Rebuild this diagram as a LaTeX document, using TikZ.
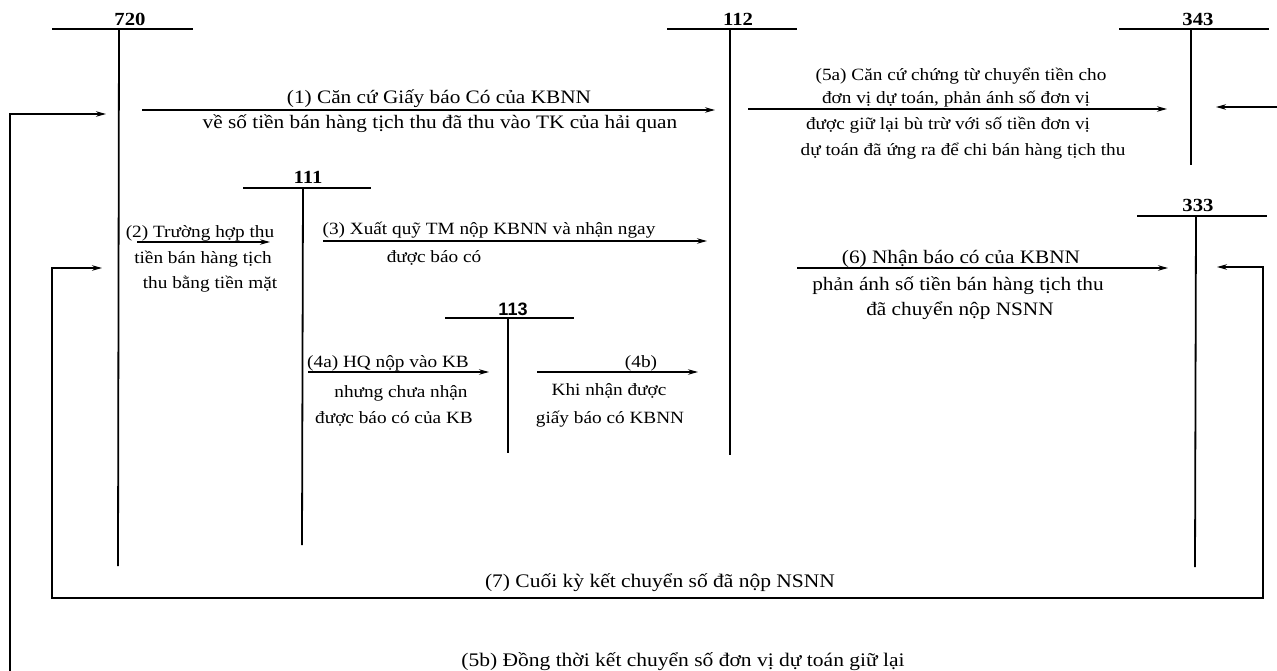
\documentclass[tikz,border=0pt]{standalone}
\usepackage{fontspec}
\setmainfont{Liberation Serif}[FakeStretch=1.12]
\newfontfamily\numsans{Liberation Sans}
\usetikzlibrary{arrows.meta}
\begin{document}
\begin{tikzpicture}[x=1pt,y=-1pt,
  tline/.style={line width=1.8pt},
  flow/.style={line width=1.3pt,-{Stealth[length=10pt,width=5.5pt]}},
  both/.style={line width=1.3pt,{Stealth[length=10pt,width=5.5pt]}-{Stealth[length=10pt,width=5.5pt]}},
  txt/.style={anchor=base,inner sep=0pt,font=\fontsize{19}{20}\selectfont},
  stxt/.style={anchor=base,inner sep=0pt,font=\fontsize{17.2}{20}\selectfont},
  btxt/.style={anchor=base,inner sep=0pt,font=\fontsize{19.2}{20}\selectfont},
  acc/.style={anchor=base,inner sep=0pt,font=\fontsize{18.5}{20}\selectfont\bfseries},
  accs/.style={anchor=base,inner sep=0pt,font=\numsans\fontsize{18}{20}\selectfont\bfseries}]
\useasboundingbox (0,0) rectangle (1277,671);

% ---------- T accounts ----------
\node[acc] (n720) at (130,26) {720};
\coordinate (a720l) at (52,29); \coordinate (a720r) at (193,29);
\coordinate (a720t) at (119,29); \coordinate (a720b) at (118,566);
\draw[tline] (a720l) -- (a720r); \draw[tline] (a720t) -- (a720b);

\node[acc] (n112) at (738,26) {112};
\coordinate (a112l) at (667,29); \coordinate (a112r) at (797,29);
\coordinate (a112t) at (730,29); \coordinate (a112b) at (730,455);
\draw[tline] (a112l) -- (a112r); \draw[tline] (a112t) -- (a112b);

\node[acc] (n343) at (1198,26) {343};
\coordinate (a343l) at (1119,29); \coordinate (a343r) at (1269,29);
\coordinate (a343t) at (1191,29); \coordinate (a343b) at (1191,165);
\draw[tline] (a343l) -- (a343r); \draw[tline] (a343t) -- (a343b);

\node[acc] (n111) at (308,184) {111};
\coordinate (a111l) at (243,188); \coordinate (a111r) at (371,188);
\coordinate (a111t) at (303,188); \coordinate (a111b) at (302,545);
\draw[tline] (a111l) -- (a111r); \draw[tline] (a111t) -- (a111b);

\node[acc] (n333) at (1198,212) {333};
\coordinate (a333l) at (1137,216); \coordinate (a333r) at (1267,216);
\coordinate (a333t) at (1196,216); \coordinate (a333b) at (1195,567);
\draw[tline] (a333l) -- (a333r); \draw[tline] (a333t) -- (a333b);

\node[accs] (n113) at (513,315) {113};
\coordinate (a113l) at (445,318); \coordinate (a113r) at (574,318);
\coordinate (a113t) at (508,318); \coordinate (a113b) at (508,453);
\draw[tline] (a113l) -- (a113r); \draw[tline] (a113t) -- (a113b);

% ---------- (1) ----------
\coordinate (f1s) at (142,110); \coordinate (f1e) at (715,110);
\draw[flow] (f1s) -- (f1e);
\node[txt] (t1a) at (439,104) {(1) Căn cứ Giấy báo Có của KBNN};
\node[txt] (t1b) at (440,129) {về số tiền bán hàng tịch thu đã thu vào TK của hải quan};

% ---------- (5a) ----------
\coordinate (f5s) at (748,109); \coordinate (f5e) at (1167,109);
\draw[flow] (f5s) -- (f5e);
\node[stxt] (t5a) at (961,81) {(5a) Căn cứ chứng từ chuyển tiền cho};
\node[stxt] (t5b) at (956,104) {đơn vị dự toán, phản ánh số đơn vị};
\node[stxt] (t5c) at (948,130) {được giữ lại bù trừ với số tiền đơn vị};
\node[stxt] (t5d) at (963,156) {dự toán đã ứng ra để chi bán hàng tịch thu};

% ---------- (5b) loop ----------
\coordinate (l5a) at (1216,107); \coordinate (l5b) at (1300,107);
\coordinate (l5c) at (1300,673); \coordinate (l5d) at (10,673);
\coordinate (l5e) at (10,114); \coordinate (l5f) at (106,114);
\draw[both] (l5a) -- (l5b) -- (l5c) -- (l5d) -- (l5e) -- (l5f);
\node[btxt] (t5bb) at (683,666) {(5b) Đồng thời kết chuyển số đơn vị dự toán giữ lại};

% ---------- (2) ----------
\coordinate (f2s) at (137,242); \coordinate (f2e) at (270,242);
\draw[flow] (f2s) -- (f2e);
\node[stxt] (t2a) at (200,237) {(2) Trường hợp thu};
\node[stxt] (t2b) at (203,263) {tiền bán hàng tịch};
\node[stxt] (t2c) at (210,288) {thu bằng tiền mặt};

% ---------- (3) ----------
\coordinate (f3s) at (323,241); \coordinate (f3e) at (707,241);
\draw[flow] (f3s) -- (f3e);
\node[stxt] (t3a) at (489,235) {(3) Xuất quỹ TM nộp KBNN và nhận ngay};
\node[stxt] (t3b) at (434,262) {được báo có};

% ---------- (6) ----------
\coordinate (f6s) at (797,268); \coordinate (f6e) at (1168,268);
\draw[flow] (f6s) -- (f6e);
\node[txt] (t6a) at (961,263) {(6) Nhận báo có của KBNN};
\node[txt] (t6b) at (958,290) {phản ánh số tiền bán hàng tịch thu};
\node[txt] (t6c) at (960,315) {đã chuyển nộp NSNN};

% ---------- (7) loop ----------
\coordinate (l7a) at (1217,267); \coordinate (l7b) at (1263,267);
\coordinate (l7c) at (1263,598); \coordinate (l7d) at (52,598);
\coordinate (l7e) at (52,268); \coordinate (l7f) at (102,268);
\draw[both] (l7a) -- (l7b) -- (l7c) -- (l7d) -- (l7e) -- (l7f);
\node[btxt] (t7) at (660,587) {(7) Cuối kỳ kết chuyển số đã nộp NSNN};

% ---------- (4a) ----------
\coordinate (f4as) at (308,372); \coordinate (f4ae) at (489,372);
\draw[flow] (f4as) -- (f4ae);
\node[stxt] (t4aa) at (388,367) {(4a) HQ nộp vào KB};
\node[stxt] (t4ab) at (401,397) {nhưng chưa nhận};
\node[stxt] (t4ac) at (394,423) {được báo có của KB};

% ---------- (4b) ----------
\coordinate (f4bs) at (537,372); \coordinate (f4be) at (698,372);
\draw[flow] (f4bs) -- (f4be);
\node[stxt] (t4ba) at (641,367) {(4b)};
\node[stxt] (t4bb) at (609,395) {Khi nhận được};
\node[stxt] (t4bc) at (610,423) {giấy báo có KBNN};
\end{tikzpicture}
\end{document}
